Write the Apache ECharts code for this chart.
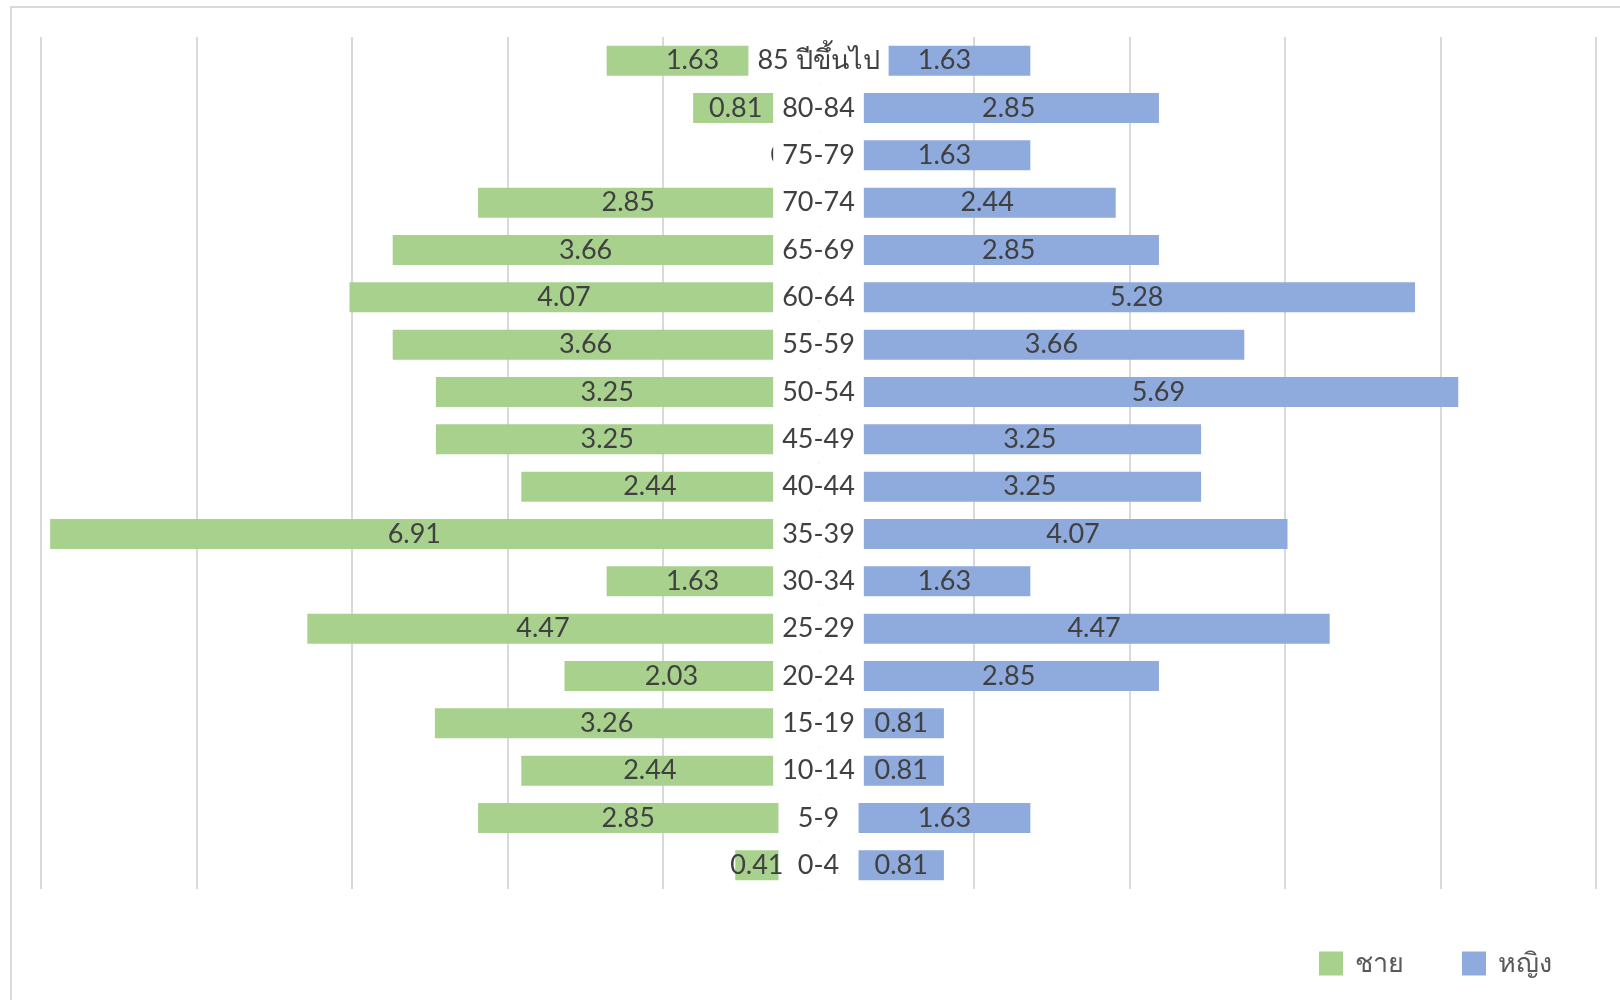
<!DOCTYPE html>
<html>
<head>
<meta charset="utf-8">
<script src="https://cdn.jsdelivr.net/npm/echarts@6/dist/echarts.min.js"></script>
<style>
html,body{margin:0;padding:0;background:#fff;}
#chart{width:1620px;height:1000px;}
</style>
</head>
<body>
<div id="chart"></div>
<script>
// ---- data (bottom row first, as ECharts category axes run bottom-up) ----
const categories = ['0-4','5-9','10-14','15-19','20-24','25-29','30-34','35-39','40-44','45-49','50-54','55-59','60-64','65-69','70-74','75-79','80-84','85 ปีขึ้นไป'];
const male   = [0.41, 2.85, 2.44, 3.26, 2.03, 4.47, 1.63, 6.91, 2.44, 3.25, 3.25, 3.66, 4.07, 3.66, 2.85, 0, 0.81, 1.63];
const female = [0.81, 1.63, 0.81, 0.81, 2.85, 4.47, 1.63, 4.07, 3.25, 3.25, 5.69, 3.66, 5.28, 2.85, 2.44, 1.63, 2.85, 1.63];
const seriesNames = ['ชาย', 'หญิง'];

const FONT = "Lato, 'Noto Sans', 'DejaVu Sans', sans-serif";
const GAP = 0.38;          // half-width of the central label gap, in axis units
const HALF_RANGE = 7.377;  // axis half range in units
const chart = echarts.init(document.getElementById('chart'), null, {renderer: 'canvas'});

const labelStyle = {
  show: true, position: 'inside', fontSize: 27, color: '#404040', fontFamily: FONT
};

chart.setOption({
  animation: false,
  backgroundColor: '#fff',
  graphic: [{
    type: 'rect', z: -10, silent: true,
    shape: {x: 11, y: 7, width: 1640, height: 1020},
    style: {fill: 'none', stroke: '#d9d9d9', lineWidth: 2}
  }],
  grid: {left: 41, right: 24, top: 37, bottom: 111, containLabel: false},
  xAxis: [{
    type: 'value', min: -HALF_RANGE, max: HALF_RANGE,
    axisLine: {show: false}, axisTick: {show: false}, axisLabel: {show: false}, splitLine: {show: false}
  }, {
    type: 'value', min: -5, max: 5, interval: 1, position: 'bottom',
    axisLine: {show: false}, axisTick: {show: false}, axisLabel: {show: false},
    splitLine: {show: true, lineStyle: {color: '#d9d9d9', width: 2}}
  }],
  yAxis: {
    type: 'category', data: categories, z: 10,
    offset: -777.5,
    axisLine: {show: false, onZero: false}, axisTick: {show: false},
    axisLabel: {
      align: 'center', margin: 0, fontSize: 27, color: '#404040', fontFamily: FONT,
      backgroundColor: '#ffffff', padding: [8, 9], lineHeight: 31
    },
    splitLine: {show: false}
  },
  legend: {
    data: seriesNames, left: 1319, top: 950, padding: 0,
    icon: 'rect', itemWidth: 24, itemHeight: 24, itemGap: 58,
    textStyle: {fontSize: 27, color: '#595959', fontFamily: FONT, padding: [0, 0, 0, 7]}
  },
  series: [{
    name: 'spacerL', type: 'bar', stack: 'pyr', barWidth: 30, silent: true,
    data: categories.map(() => -GAP), itemStyle: {color: 'rgba(0,0,0,0)'}
  }, {
    name: seriesNames[0], type: 'bar', stack: 'pyr', barWidth: 30,
    data: male.map(v => -v), itemStyle: {color: '#A9D18E'},
    label: Object.assign({}, labelStyle, {formatter: p => String(male[p.dataIndex])})
  }, {
    name: 'spacerR', type: 'bar', stack: 'pyr', barWidth: 30, silent: true,
    data: categories.map(() => GAP), itemStyle: {color: 'rgba(0,0,0,0)'}
  }, {
    name: seriesNames[1], type: 'bar', stack: 'pyr', barWidth: 30,
    data: female, itemStyle: {color: '#8FAADC'},
    label: Object.assign({}, labelStyle, {formatter: p => String(female[p.dataIndex])})
  }]
});
</script>
</body>
</html>
